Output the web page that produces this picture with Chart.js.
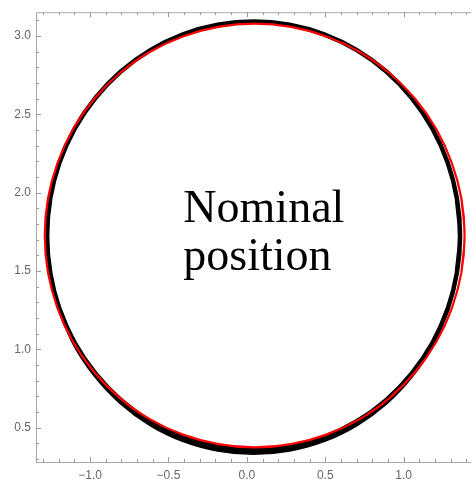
<!DOCTYPE html>
<html>
<head>
<meta charset="utf-8">
<script src="https://cdn.jsdelivr.net/npm/chart.js"></script>
<style>
  html, body { margin: 0; padding: 0; background: #fff; }
  #wrap { width: 472px; height: 482px; }
</style>
</head>
<body>
<div id="wrap"><canvas id="ring" width="472" height="482"></canvas></div>
<script>
// plot window
const xMin = -1.345, xMax = 1.43;
const yMin = 0.28, yMax = 3.152;

// major tick labels
const xTickValues = [-1.0, -0.5, 0.0, 0.5, 1.0];
const yTickValues = [0.5, 1.0, 1.5, 2.0, 2.5, 3.0];

// measured positions (black ring), every 10 degrees round the centre,
// starting at 350 and running one step past a full turn so the loop closes smoothly
const measX = [1.340, 1.360, 1.340, 1.281, 1.184, 1.052, 0.890, 0.702, 0.493, 0.272, 0.043,
  -0.186, -0.407, -0.616, -0.804, -0.966, -1.098, -1.195, -1.254, -1.274,
  -1.254, -1.195, -1.098, -0.966, -0.804, -0.616, -0.407, -0.186, 0.043,
  0.272, 0.493, 0.702, 0.890, 1.052, 1.184, 1.281, 1.340, 1.360, 1.340];
const measY = [1.487, 1.725, 1.963, 2.193, 2.409, 2.604, 2.773, 2.910, 3.011, 3.072, 3.093,
  3.072, 3.011, 2.910, 2.773, 2.604, 2.409, 2.193, 1.963, 1.725,
  1.487, 1.257, 1.041, 0.846, 0.677, 0.540, 0.439, 0.378, 0.357,
  0.378, 0.439, 0.540, 0.677, 0.846, 1.041, 1.257, 1.487, 1.725, 1.963];

// lower band of the ring, where the scatter spreads wider
const measLowX = [-1.195, -1.098, -0.966, -0.804, -0.616, -0.407, -0.186, 0.043,
  0.272, 0.493, 0.702, 0.890, 1.052, 1.184, 1.281];
const measLowY = [1.257, 1.030, 0.832, 0.660, 0.521, 0.419, 0.358, 0.337,
  0.358, 0.419, 0.521, 0.660, 0.832, 1.030, 1.257];

// fitted nominal ellipse (red), same angular steps
const fitX = [1.369, 1.389, 1.369, 1.308, 1.210, 1.076, 0.911, 0.720, 0.508, 0.282, 0.050,
  -0.182, -0.408, -0.620, -0.811, -0.976, -1.110, -1.208, -1.269, -1.289,
  -1.269, -1.208, -1.110, -0.976, -0.811, -0.620, -0.408, -0.182, 0.050,
  0.282, 0.508, 0.720, 0.911, 1.076, 1.210, 1.308, 1.369, 1.389, 1.369];
const fitY = [1.491, 1.726, 1.961, 2.189, 2.403, 2.596, 2.762, 2.898, 2.997, 3.058, 3.079,
  3.058, 2.997, 2.898, 2.762, 2.596, 2.403, 2.189, 1.961, 1.726,
  1.491, 1.263, 1.049, 0.856, 0.690, 0.554, 0.455, 0.394, 0.373,
  0.394, 0.455, 0.554, 0.690, 0.856, 1.049, 1.263, 1.491, 1.726, 1.961];

// label inside the ring, anchored at its left edge in data coordinates
const labelLines = ['Nominal', 'position'];
const labelX = -0.405;
const labelY = [1.813, 1.508];

const toPoints = (xs, ys) => xs.map((x, i) => ({ x, y: ys[i] }));
const fmt = v => v.toFixed(1).replace('-', '\u2212');

// Mathematica-style frame: thin grey box with inward major/minor ticks
const framePlugin = {
  id: 'frame',
  beforeDatasetsDraw(chart) {
    const { ctx, chartArea: a, scales } = chart;
    ctx.save();
    ctx.strokeStyle = '#a8a8a8';
    ctx.lineWidth = 1;
    ctx.beginPath();
    ctx.moveTo(a.left + 0.5, a.top + 0.5);
    ctx.lineTo(a.left + 0.5, a.bottom + 0.5);
    ctx.lineTo(a.right, a.bottom + 0.5);
    ctx.moveTo(a.left + 0.5, a.top + 0.5);
    ctx.lineTo(a.right, a.top + 0.5);
    ctx.stroke();

    ctx.strokeStyle = '#9a9a9a';
    ctx.beginPath();
    for (let i = -13; i <= 14; i++) {
      const px = Math.round(scales.x.getPixelForValue(i / 10)) + 0.5;
      const len = i % 5 === 0 ? 5 : 3;
      ctx.moveTo(px, a.bottom);
      ctx.lineTo(px, a.bottom - len);
      ctx.moveTo(px, a.top);
      ctx.lineTo(px, a.top + len);
    }
    for (let i = 3; i <= 31; i++) {
      const py = Math.round(scales.y.getPixelForValue(i / 10)) + 0.5;
      const len = i % 5 === 0 ? 5 : 3;
      ctx.moveTo(a.left, py);
      ctx.lineTo(a.left + len, py);
    }
    ctx.stroke();
    ctx.restore();
  },
  afterDatasetsDraw(chart) {
    const { ctx, scales } = chart;
    ctx.save();
    ctx.fillStyle = '#000';
    ctx.font = '46px "Liberation Serif", "Times New Roman", serif';
    ctx.textAlign = 'left';
    ctx.textBaseline = 'alphabetic';
    labelLines.forEach((line, i) => {
      ctx.fillText(line, scales.x.getPixelForValue(labelX), scales.y.getPixelForValue(labelY[i]));
    });
    ctx.restore();
  }
};

const tickFont = { family: '"Liberation Sans", Arial, sans-serif', size: 12 };

new Chart(document.getElementById('ring'), {
  type: 'scatter',
  data: {
    datasets: [
      {
        // red fit is drawn last, on top of the black scatter
        data: toPoints(fitX, fitY),
        order: 0,
        showLine: true,
        borderColor: '#ff0000',
        borderWidth: 2.2,
        tension: 0.4,
        pointRadius: 0
      },
      {
        data: toPoints(measX, measY),
        order: 2,
        showLine: true,
        borderColor: '#000',
        borderWidth: 4.5,
        tension: 0.4,
        pointRadius: 0
      },
      {
        data: toPoints(measLowX, measLowY),
        order: 1,
        showLine: true,
        borderColor: '#000',
        borderWidth: 4,
        tension: 0.4,
        pointRadius: 0
      }
    ]
  },
  options: {
    responsive: false,
    animation: false,
    layout: { padding: { top: 9, right: 1, left: 0, bottom: 0 } },
    plugins: {
      legend: { display: false },
      tooltip: { enabled: false }
    },
    scales: {
      x: {
        type: 'linear',
        position: 'bottom',
        min: xMin,
        max: xMax,
        grid: { display: false, drawTicks: false },
        border: { display: false },
        afterBuildTicks: s => { s.ticks = xTickValues.map(value => ({ value })); },
        afterFit: s => { s.height = 20; },
        ticks: {
          padding: 6,
          color: '#666',
          font: tickFont,
          maxRotation: 0,
          callback: v => fmt(v)
        }
      },
      y: {
        type: 'linear',
        position: 'left',
        min: yMin,
        max: yMax,
        grid: { display: false, drawTicks: false },
        border: { display: false },
        afterBuildTicks: s => { s.ticks = yTickValues.map(value => ({ value })); },
        afterFit: s => { s.width = 36; },
        ticks: {
          padding: 5,
          color: '#666',
          font: tickFont,
          callback: v => fmt(v)
        }
      }
    }
  },
  plugins: [framePlugin]
});
</script>
</body>
</html>
